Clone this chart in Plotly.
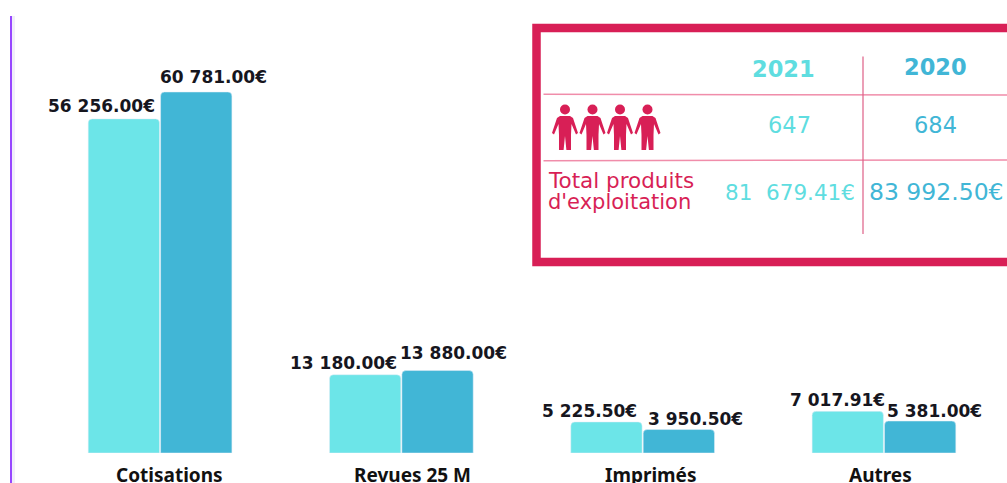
import plotly.graph_objects as go

categories = ["Cotisations", "Revues 25 M", "Imprimés", "Autres"]
values_2021 = [56256.00, 13180.00, 5225.50, 7017.91]
values_2020 = [60781.00, 13880.00, 3950.50, 5381.00]
labels_2021 = ["56 256.00€", "13 180.00€", "5 225.50€", "7 017.91€"]
labels_2020 = ["60 781.00€", "13 880.00€", "3 950.50€", "5 381.00€"]
years = ["2021", "2020"]
headcount = ["647", "684"]
total_label = ["Total produits", "d'exploitation"]
totals = ["81  679.41€", "83 992.50€"]

W, H = 1007, 483
CYAN, BLUE, RED = "#6CE5E8", "#41B6D6", "#D81F56"
TXT_CYAN = "#5FDDE0"
PINK = "#F08DAA"
VAL_FONT = "DejaVu Sans"
BASE_PX, TOP_PX = 453.0, 37.2
X0_PX, X1_PX = 39.4, 1004.6


def px(x):
    return x / W


def py(y):
    return 1 - y / H


fig = go.Figure()
fig.add_bar(x=categories, y=values_2021, name="2021", marker=dict(color=CYAN, cornerradius=4))
fig.add_bar(x=categories, y=values_2020, name="2020", marker=dict(color=BLUE, cornerradius=4))

# label placement relative to each bar's centre and top
shift_x_2021 = [-22.5, -22, -16.5, -10]
shift_y_2021 = [13, 12, 11, 11]
shift_x_2020 = [17.5, 16, 16.5, 14]
shift_y_2020 = [15, 17.5, 11, 10]
shift_x_category = [9, 11, 8, -3]

annotations = []
for i in range(len(categories)):
    for off, vals, labs, sx, sy in (
        (-0.15, values_2021, labels_2021, shift_x_2021, shift_y_2021),
        (0.15, values_2020, labels_2020, shift_x_2020, shift_y_2020),
    ):
        annotations.append(dict(
            x=i + off, y=vals[i], xref="x", yref="y", text=labs[i], showarrow=False,
            xanchor="center", yanchor="middle", xshift=sx[i], yshift=sy[i],
            font=dict(family=VAL_FONT, size=17, color="#16161E", weight=600),
        ))
    annotations.append(dict(
        x=i, y=0, xref="x", yref="y", text=categories[i], showarrow=False,
        xanchor="center", yanchor="middle", xshift=shift_x_category[i], yshift=-22,
        font=dict(family="Noto Sans", size=19, color="#111", weight=700),
    ))


def txt(x, y, s, color, size, bold=False, anchor="center"):
    annotations.append(dict(
        x=px(x), y=py(y), xref="paper", yref="paper", text=f"<b>{s}</b>" if bold else s,
        showarrow=False, xanchor=anchor, yanchor="middle",
        font=dict(family=VAL_FONT, size=size, color=color),
    ))


txt(783, 69, years[0], TXT_CYAN, 22.5, True)
txt(935, 67, years[1], BLUE, 22.5, True)
txt(789, 125.5, headcount[0], TXT_CYAN, 22.5)
txt(935, 125.5, headcount[1], BLUE, 22.5)
txt(546, 180, total_label[0], RED, 21.5, anchor="left")
txt(546, 202, total_label[1], RED, 21, anchor="left")
txt(789.5, 192, totals[0], TXT_CYAN, 21.5)
txt(936, 192, totals[1], BLUE, 23.5)

shapes = []


def line(x0, y0, x1, y1, color, width):
    shapes.append(dict(type="line", xref="paper", yref="paper", x0=px(x0), y0=py(y0),
                       x1=px(x1), y1=py(y1), line=dict(color=color, width=width)))


# left rule with its pale edge
line(13.5, 16, 13.5, 483, "#F0EEF9", 3)
line(11, 16, 11, 483, "#9747FF", 2)
# frame
shapes.append(dict(type="rect", xref="paper", yref="paper", x0=px(536.5), y0=py(28),
                   x1=px(1030), y1=py(262), line=dict(color=RED, width=8.5),
                   fillcolor="white"))
line(543.5, 94.3, 1007, 95, PINK, 1.5)
line(543.5, 160.7, 1007, 160, PINK, 1.5)
line(863, 56.5, 863, 234, "#DE5F86", 1.2)


def person(cx):
    shapes.append(dict(type="circle", xref="paper", yref="paper", x0=px(cx - 5), x1=px(cx + 5),
                       y0=py(104.5), y1=py(114.5), fillcolor=RED, line_width=0))
    pts = [(-5, 116), (5, 116), (8, 118), (13, 133), (11, 134.5), (6.5, 124), (6, 135),
           (6, 150), (1.4, 150), (0, 136), (-1.4, 150), (-6, 150), (-6, 135),
           (-6.5, 124), (-11, 134.5), (-13, 133), (-8, 118)]
    d = "M" + " L".join(f"{px(cx + a):.5f},{py(b):.5f}" for a, b in pts) + " Z"
    shapes.append(dict(type="path", xref="paper", yref="paper", path=d, fillcolor=RED, line_width=0))


for cx in (565, 592.5, 620, 647.5):
    person(cx)

scale = (BASE_PX - 92.0) / max(values_2020)
y_max = (BASE_PX - TOP_PX) / scale

fig.update_layout(
    width=W, height=H, margin=dict(l=0, r=0, t=0, b=0),
    paper_bgcolor="white", plot_bgcolor="white", showlegend=False,
    barmode="group", bargap=0.4, bargroupgap=0.015,
    annotations=annotations, shapes=shapes,
    xaxis=dict(domain=[px(X0_PX), px(X1_PX)], type="category", showgrid=False, showline=False,
               ticks="", showticklabels=False, automargin=False),
    yaxis=dict(domain=[py(BASE_PX), py(TOP_PX)], range=[0, y_max], visible=False, automargin=False),
)

fig.write_html("out.html", config=dict(displayModeBar=False),
               post_script="document.body.style.margin='0';document.body.style.overflow='hidden';")
